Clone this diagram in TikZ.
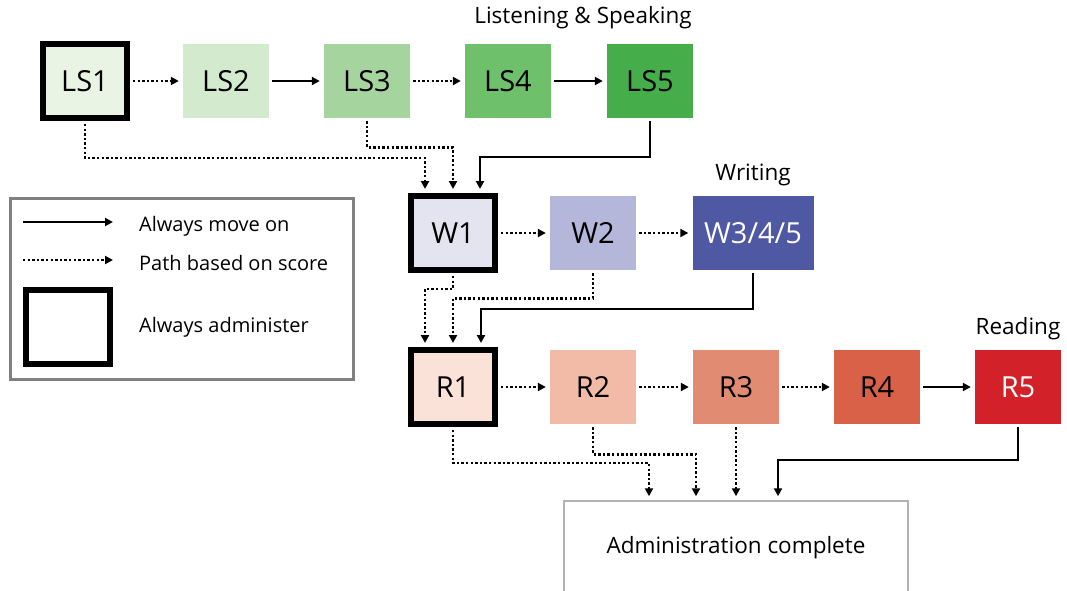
\documentclass[tikz,border=0pt]{standalone}
\usepackage{fontspec}
\setmainfont{Open Sans}
\usetikzlibrary{positioning,arrows.meta}

\definecolor{lsA}{HTML}{E9F4E5}
\definecolor{lsB}{HTML}{D3EACE}
\definecolor{lsC}{HTML}{A6D49F}
\definecolor{lsD}{HTML}{6EC06B}
\definecolor{lsE}{HTML}{45AD49}
\definecolor{wA}{HTML}{E4E4F1}
\definecolor{wB}{HTML}{B5B7DA}
\definecolor{wC}{HTML}{4F58A3}
\definecolor{rA}{HTML}{FAE2D8}
\definecolor{rB}{HTML}{F1BBA8}
\definecolor{rC}{HTML}{E28B73}
\definecolor{rD}{HTML}{D96148}
\definecolor{rE}{HTML}{D32129}

\tikzset{
  box/.style={rectangle,inner sep=0pt,minimum width=86pt,minimum height=74pt,
    font=\fontsize{29}{32}\selectfont},
  core/.style={box,draw=black,line width=6pt,minimum width=84pt},
  hdr/.style={inner sep=0pt,font=\fontsize{22.5}{26}\selectfont},
  note/.style={inner sep=0pt,anchor=west,font=\fontsize{20}{24}\selectfont},
  move/.style={line width=2.2pt,shorten <=3pt,shorten >=4pt,
    -{Triangle[length=8pt,width=8pt]}},
  score/.style={move,line width=2.6pt,dash pattern=on 2.4pt off 2.2pt},
}

\begin{document}
\begin{tikzpicture}[x=1pt,y=-1pt]
  \useasboundingbox (0,0) rectangle (1067,590);

  % listening and speaking
  \node[core,fill=lsA] (ls1) at (85,81) {LS1};
  \node[box,fill=lsB] (ls2) at (226,81) {LS2};
  \node[box,fill=lsC] (ls3) at (367,81) {LS3};
  \node[box,fill=lsD] (ls4) at (508,81) {LS4};
  \node[box,fill=lsE] (ls5) at (650,81) {LS5};
  \node[hdr] (lshead) at (583,18) {Listening \& Speaking};

  % writing
  \node[core,fill=wA] (w1) at (453,233) {W1};
  \node[box,fill=wB] (w2) at (593,233) {W2};
  \node[box,fill=wC,text=white,minimum width=121pt] (w345) at (753,233) {W3/4/5};
  \node[hdr,above=10pt of w345] (whead) {Writing};

  % reading
  \node[core,fill=rA] (r1) at (453,387) {R1};
  \node[box,fill=rB] (r2) at (593,387) {R2};
  \node[box,fill=rC] (r3) at (736,387) {R3};
  \node[box,fill=rD] (r4) at (877,387) {R4};
  \node[box,fill=rE,text=white] (r5) at (1018,387) {R5};
  \node[hdr,above=10pt of r5] (rhead) {Reading};

  \node[draw=gray!60,line width=1.5pt,minimum width=344pt,minimum height=94pt,
    font=\fontsize{22.5}{26}\selectfont] (done) at (736,548) {Administration complete};

  % legend
  \node[draw=gray,line width=3pt,minimum width=343pt,minimum height=181pt] (legend) at (181.5,288.5) {};
  \coordinate (moveA) at (23,222);
  \coordinate (moveB) at (117,222);
  \coordinate (scoreA) at (23,260);
  \coordinate (scoreB) at (117,260);
  \node[core] (keybox) at (68,327) {};
  \node[note] (keymove) at (139,226) {Always move on};
  \node[note] (keyscore) at (139,263) {Path based on score};
  \node[note] (keycore) at (139,327) {Always administer};
  \draw[move,shorten <=0pt] (moveA) -- (moveB);
  \draw[score,shorten <=0pt] (scoreA) -- (scoreB);

  \draw[score] (ls1) -- (ls2);
  \draw[move] (ls2) -- (ls3);
  \draw[score] (ls3) -- (ls4);
  \draw[move] (ls4) -- (ls5);
  \draw[score] (w1) -- (w2);
  \draw[score] (w2) -- (w345);
  \draw[score] (r1) -- (r2);
  \draw[score] (r2) -- (r3);
  \draw[score] (r3) -- (r4);
  \draw[move] (r4) -- (r5);

  \draw[score] (ls1.south) -- ++(0,37) -| ([xshift=-28pt]w1.north);
  \draw[score] (ls3.south) -- ++(0,29) -| (w1.north);
  \draw[move] (ls5.south) -- ++(0,39) -| ([xshift=27pt]w1.north);

  \draw[score] (w1.south) -- ++(0,16) -| ([xshift=-28pt]r1.north);
  \draw[score] (w2.south) -- ++(0,28) -| (r1.north);
  \draw[move] (w345.south) -- ++(0,39) -| ([xshift=28pt]r1.north);

  \draw[score] (r1.south) -- ++(0,36) -| ([xshift=-87pt]done.north);
  \draw[score] (r2.south) -- ++(0,30) -| ([xshift=-40pt]done.north);
  \draw[score] (r3.south) -- (done.north);
  \draw[move] (r5.south) -- ++(0,36) -| ([xshift=42pt]done.north);
\end{tikzpicture}
\end{document}
